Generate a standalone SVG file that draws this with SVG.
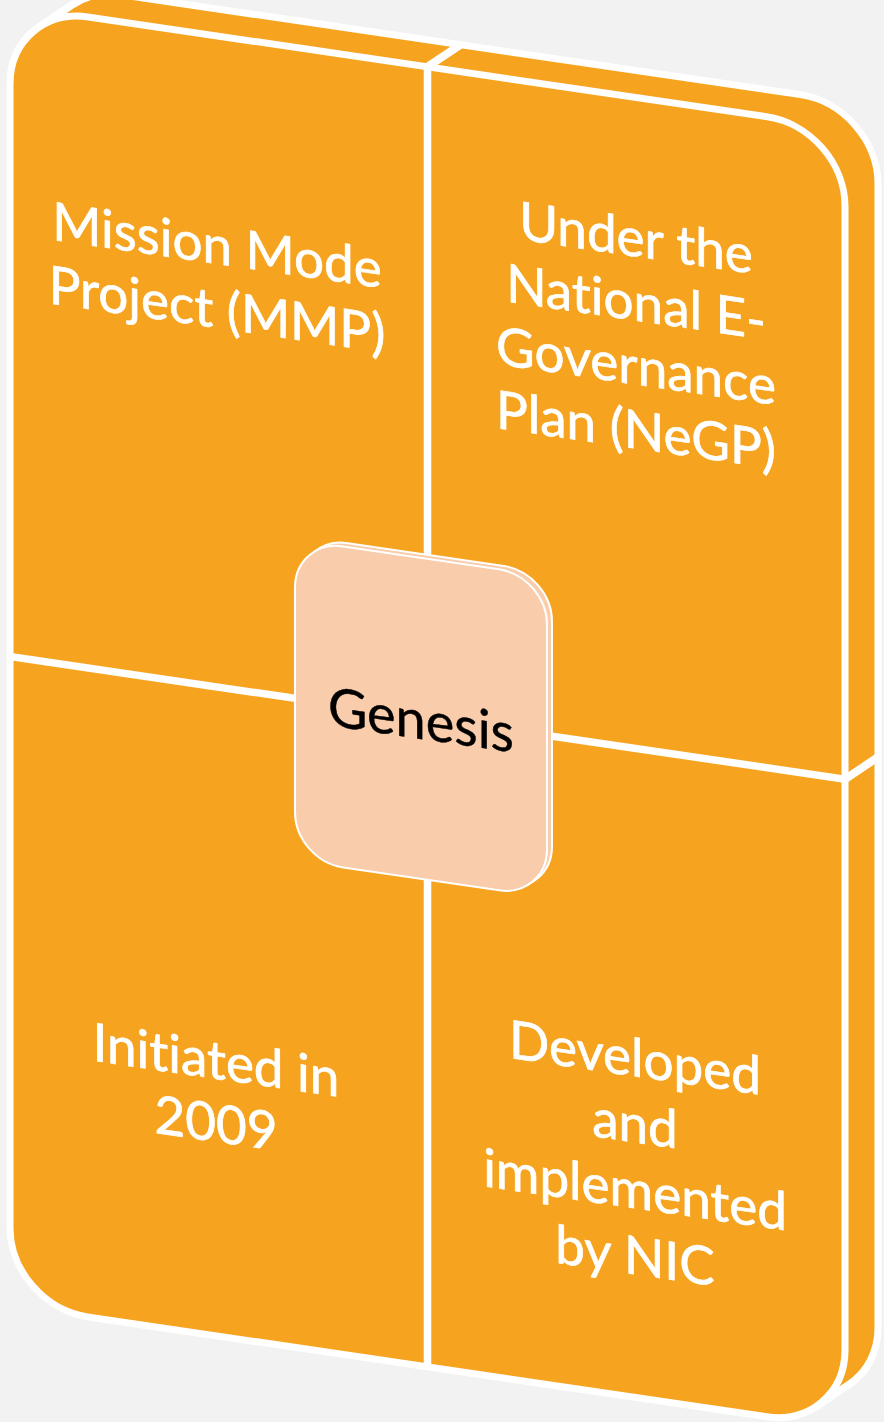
<svg xmlns="http://www.w3.org/2000/svg" width="884" height="1422" viewBox="0 0 884 1422">
<style>
.face{fill:#F6A41F;stroke:#FFFFFF;stroke-width:7;stroke-linejoin:round}
.div{stroke:#FFFFFF;stroke-width:7.5;fill:none;stroke-linecap:butt}
.lbl{font-family:Lato,"Liberation Sans",sans-serif;font-size:53px;fill:#FFFFFF;stroke:#FFFFFF;stroke-width:0.7;text-anchor:middle;font-variant-ligatures:none}
.ctr{fill:#F9CDAB;stroke:#FFFFFF;stroke-width:2}
.ctrlbl{font-family:Lato,"Liberation Sans",sans-serif;font-size:54px;fill:#000000;stroke:#000000;stroke-width:0.5;text-anchor:middle}
</style>
<rect width="884" height="1422" fill="#F2F2F2"/>
<g transform="matrix(1,0.147,0,1,0,0)">
  <g id="frame">
    <path class="face" d="M38.6,21.6 L71.6,-5.4 A78,78 0 0 1 121,-23 L800,-23 A78,78 0 0 1 878,55 L878,1199 A78,78 0 0 1 849.4,1259.4 L816.4,1286.4 L767,1226 L88,82 Z"/>
    <rect class="face" x="10" y="4" width="835" height="1300" rx="78" ry="78"/>
  </g>
  <g id="connectors">
    <line class="div" x1="427.5" y1="4" x2="427.5" y2="1304"/>
    <line class="div" x1="10" y1="655" x2="845" y2="655"/>
    <line class="div" x1="427.5" y1="4" x2="460.5" y2="-23"/>
    <line class="div" x1="845" y1="655" x2="878" y2="628"/>
  </g>
  <g id="q1">
    <text class="lbl" x="217" y="232">Mission Mode</text>
    <text class="lbl" x="217" y="296">Project (MMP)</text>
  </g>
  <g id="q2">
    <text class="lbl" x="636" y="163">Under the</text>
    <text class="lbl" x="636" y="227">National E-</text>
    <text class="lbl" x="636" y="291">Governance</text>
    <text class="lbl" x="636" y="355">Plan (NeGP)</text>
  </g>
  <g id="q3">
    <text class="lbl" x="216" y="1047">Initiated in</text>
    <text class="lbl" x="216" y="1110">2009</text>
  </g>
  <g id="q4">
    <text class="lbl" x="635" y="983">Developed</text>
    <text class="lbl" x="635" y="1049">and</text>
    <text class="lbl" x="635" y="1115">implemented</text>
    <text class="lbl" x="635" y="1181">by NIC</text>
  </g>
  <g id="genesis">
    <rect class="ctr" x="300" y="492" width="252" height="321" rx="48" ry="48"/>
    <rect class="ctr" x="295" y="496" width="252" height="321" rx="48" ry="48"/>
    <text class="ctrlbl" x="421" y="677">Genesis</text>
  </g>
</g>
</svg>
